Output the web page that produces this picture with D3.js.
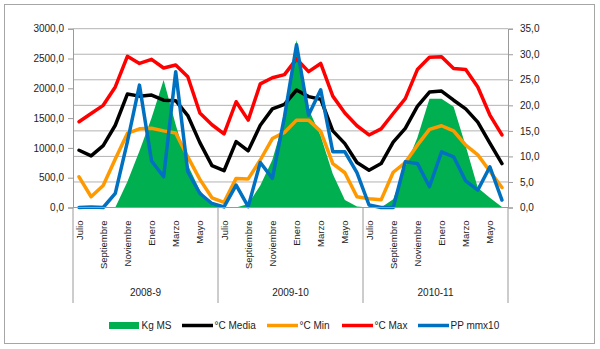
<!DOCTYPE html>
<html>
<head>
<meta charset="utf-8">
<script src="https://cdn.jsdelivr.net/npm/d3@7/dist/d3.min.js"></script>
<style>
  html, body { margin: 0; padding: 0; background: #fff; }
  svg { display: block; font-family: "Liberation Sans", Arial, sans-serif; }
</style>
</head>
<body>
<div id="chart"></div>
<script>
// month names repeat every season, only every other one is labelled
const months = ['Julio', 'Agosto', 'Septiembre', 'Octubre', 'Noviembre', 'Diciembre',
  'Enero', 'Febrero', 'Marzo', 'Abril', 'Mayo', 'Junio'];
const seasons = ['2008-9', '2009-10', '2010-11'];
const leftTicks = [0, 500, 1000, 1500, 2000, 2500, 3000];
const rightTicks = [0, 5, 10, 15, 20, 25, 30, 35];

const kgMS = [
  0, 0, 0, 0, 430, 950, 1500, 2140, 1390, 713, 290, 40,
  0, 0, 60, 370, 800, 1500, 2810, 1650, 1200, 560, 125, 15,
  0, 0, 140, 680, 1170, 1825, 1825, 1690, 1030, 330, 165, 10
];
const tMedia = [
  11.2, 10.1, 12.1, 16.1, 22.2, 21.8, 22.0, 21.0, 20.9, 18.0, 12.7, 8.2,
  7.2, 12.9, 11.1, 16.1, 19.3, 20.2, 23.0, 21.7, 21.2, 15.0, 12.5, 8.8,
  7.3, 8.6, 12.8, 15.5, 19.8, 22.6, 22.8, 21.0, 19.3, 16.7, 12.6, 8.6
];
const tMin = [
  6.0, 2.1, 4.3, 9.5, 14.5, 15.4, 15.5, 15.0, 14.6, 9.9, 5.5, 1.9,
  1.0, 5.7, 5.6, 9.3, 13.5, 14.7, 17.1, 17.1, 14.9, 8.6, 6.8, 2.1,
  1.7, 1.5, 6.9, 8.8, 12.2, 15.3, 16.0, 15.0, 12.2, 10.3, 7.1, 3.9
];
const tMax = [
  16.8, 18.4, 20.0, 23.6, 29.6, 28.2, 29.0, 27.3, 27.9, 25.6, 18.5, 16.2,
  14.4, 20.7, 17.1, 24.2, 25.4, 26.0, 29.1, 26.6, 28.2, 21.8, 18.5, 16.0,
  14.2, 15.4, 18.4, 21.3, 27.0, 29.4, 29.5, 27.2, 27.0, 23.6, 18.1, 14.2
];
const ppmm = [
  0, 10, 0, 238, 1100, 2053, 780, 515, 2278, 600, 235, 67,
  10, 377, 15, 755, 488, 1520, 2730, 1550, 1975, 935, 935, 585,
  42, 0, 0, 767, 740, 348, 935, 851, 445, 292, 684, 125
];

const width = 600, height = 349;
const plot = { left: 73, right: 508, top: 28.7, bottom: 207.5 };
const fmt = v => d3.format('.1f')(v).replace('.', ',');

const svg = d3.select('#chart').append('svg')
  .attr('width', width)
  .attr('height', height);

svg.append('rect')
  .attr('x', 4.5).attr('y', 4.5)
  .attr('width', 590).attr('height', 339)
  .attr('fill', '#fff')
  .attr('stroke', '#a6a6a6');

const n = months.length * seasons.length;
const x = d3.scaleBand().domain(d3.range(n)).range([plot.left, plot.right]);
const cx = i => x(i) + x.bandwidth() / 2;
const yLeft = d3.scaleLinear().domain([0, 3000]).range([plot.bottom, plot.top]);
const yRight = d3.scaleLinear().domain([0, 35]).range([plot.bottom, plot.top]);

// gridlines follow the right hand axis
svg.append('g')
  .selectAll('line')
  .data(rightTicks.slice(1))
  .enter()
  .append('line')
  .attr('x1', plot.left).attr('x2', plot.right)
  .attr('y1', d => yRight(d)).attr('y2', d => yRight(d))
  .attr('stroke', '#b3b3b3');

const leftAxis = svg.append('g')
  .attr('transform', `translate(${plot.left},0)`)
  .call(d3.axisLeft(yLeft).tickValues(leftTicks).tickFormat(fmt).tickSize(5).tickPadding(4));
const rightAxis = svg.append('g')
  .attr('transform', `translate(${plot.right},0)`)
  .call(d3.axisRight(yRight).tickValues(rightTicks).tickFormat(fmt).tickSize(5).tickPadding(7));
[leftAxis, rightAxis].forEach(g => {
  g.select('.domain').attr('stroke', '#9a9a9a');
  g.selectAll('.tick line').attr('stroke', '#9a9a9a');
  g.selectAll('text').attr('font-size', 10).attr('fill', '#222')
    .attr('font-family', '"Liberation Sans", Arial, sans-serif');
});

// Kg MS area
const area = d3.area()
  .x((d, i) => cx(i))
  .y0(plot.bottom)
  .y1(d => yLeft(d));
svg.append('path')
  .datum(kgMS)
  .attr('d', area)
  .attr('fill', '#00b050');

const series = [
  { values: tMedia, scale: yRight, color: '#000000' },
  { values: tMin, scale: yRight, color: '#ff9900' },
  { values: tMax, scale: yRight, color: '#ff0000' },
  { values: ppmm, scale: yLeft, color: '#0070c0' }
];
series.forEach(s => {
  const line = d3.line()
    .x((d, i) => cx(i))
    .y(d => s.scale(d));
  svg.append('path')
    .datum(s.values)
    .attr('d', line)
    .attr('fill', 'none')
    .attr('stroke', s.color)
    .attr('stroke-width', 3.5)
    .attr('stroke-linejoin', 'round')
    .attr('stroke-linecap', 'round');
});

// category axis: base line, month labels, season separators
svg.append('line')
  .attr('x1', plot.left).attr('x2', plot.right)
  .attr('y1', plot.bottom).attr('y2', plot.bottom)
  .attr('stroke', '#9a9a9a');

const monthLabels = d3.range(n).filter(i => i % 2 === 0);
svg.append('g')
  .selectAll('text')
  .data(monthLabels)
  .enter()
  .append('text')
  .attr('transform', i => `translate(${cx(i) + 3.5},${plot.bottom + 13}) rotate(-90)`)
  .attr('text-anchor', 'end')
  .attr('font-size', 9.5)
  .attr('fill', '#222')
  .text(i => months[i % months.length]);

const seasonEdges = d3.range(seasons.length + 1).map(k => plot.left + k * months.length * x.step());
svg.append('g')
  .selectAll('line')
  .data(seasonEdges)
  .enter()
  .append('line')
  .attr('x1', d => d).attr('x2', d => d)
  .attr('y1', plot.bottom).attr('y2', 303)
  .attr('stroke', '#9a9a9a');

svg.append('g')
  .selectAll('text')
  .data(seasons)
  .enter()
  .append('text')
  .attr('x', (d, k) => (seasonEdges[k] + seasonEdges[k + 1]) / 2)
  .attr('y', 295.5)
  .attr('text-anchor', 'middle')
  .attr('font-size', 10)
  .attr('fill', '#222')
  .text(d => d);

// legend
const legendItems = [
  { name: 'Kg MS', color: '#00b050', x: 109, area: true },
  { name: '°C Media', color: '#000000', x: 182 },
  { name: '°C Min', color: '#ff9900', x: 267 },
  { name: '°C Max', color: '#ff0000', x: 342 },
  { name: 'PP mmx10', color: '#0070c0', x: 418 }
];
const legendY = 325.5;
const legend = svg.append('g');
legendItems.forEach(item => {
  if (item.area) {
    legend.append('rect')
      .attr('x', item.x).attr('y', legendY - 3.5)
      .attr('width', 30).attr('height', 7)
      .attr('fill', item.color);
  } else {
    legend.append('line')
      .attr('x1', item.x).attr('x2', item.x + 31)
      .attr('y1', legendY).attr('y2', legendY)
      .attr('stroke', item.color)
      .attr('stroke-width', 3.5);
  }
  legend.append('text')
    .attr('x', item.x + 32.5)
    .attr('y', legendY + 3.5)
    .attr('font-size', 10)
    .attr('fill', '#222')
    .text(item.name);
});
</script>
</body>
</html>
